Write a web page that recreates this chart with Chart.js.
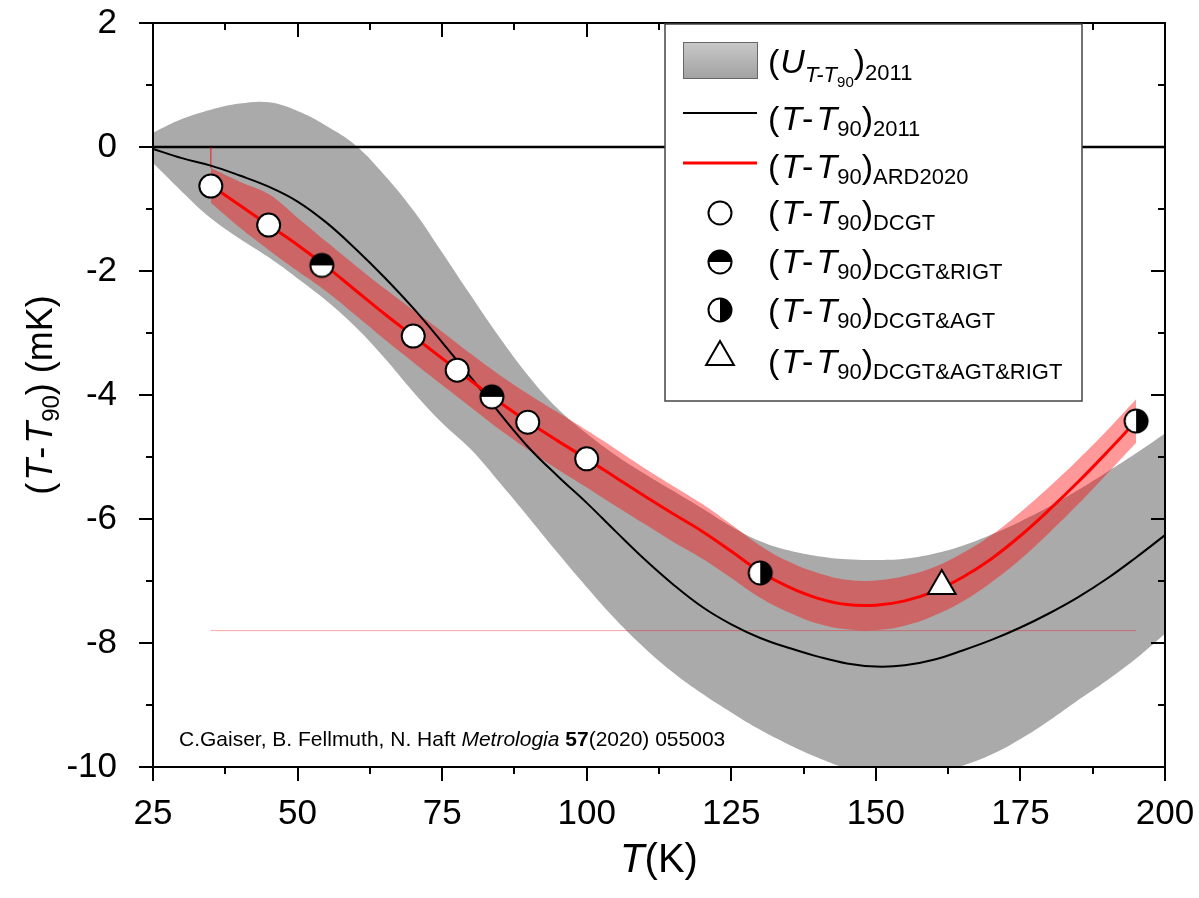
<!DOCTYPE html>
<html>
<head>
<meta charset="utf-8">
<script src="https://cdn.jsdelivr.net/npm/chart.js@4"></script>
<style>
  html,body{margin:0;padding:0;background:#fff;}
  canvas{display:block;}
</style>
</head>
<body>
<canvas id="c" width="1199" height="898"></canvas>
<script>
// ---- data ----
const xTicks = [25, 50, 75, 100, 125, 150, 175, 200];
const yTicks = [-10, -8, -6, -4, -2, 0, 2];

// 2011 band + 2011 curve, sampled every 5 K
const tGrid = [25,30,35,40,45,50,55,60,65,70,75,80,85,90,95,100,105,110,115,120,125,130,135,140,145,150,155,160,165,170,175,180,185,190,195,200];
const greyUpper = [0.23,0.45,0.60,0.70,0.72,0.58,0.34,0.03,-0.45,-1.02,-1.70,-2.40,-3.08,-3.70,-4.22,-4.62,-4.97,-5.27,-5.55,-5.83,-6.12,-6.36,-6.51,-6.60,-6.65,-6.66,-6.64,-6.56,-6.43,-6.25,-6.04,-5.80,-5.53,-5.24,-4.94,-4.62];
const greyLower = [-0.26,-0.72,-1.15,-1.48,-1.78,-2.12,-2.48,-2.90,-3.40,-3.95,-4.45,-4.88,-5.42,-5.98,-6.55,-7.10,-7.62,-8.08,-8.48,-8.82,-9.12,-9.40,-9.64,-9.85,-10.02,-10.12,-10.15,-10.10,-9.98,-9.80,-9.55,-9.25,-8.92,-8.60,-8.25,-7.85];
const curve2011 = [-0.03,-0.18,-0.30,-0.46,-0.64,-0.88,-1.22,-1.64,-2.10,-2.60,-3.15,-3.72,-4.30,-4.85,-5.31,-5.74,-6.20,-6.65,-7.06,-7.42,-7.70,-7.92,-8.08,-8.22,-8.33,-8.38,-8.36,-8.27,-8.12,-7.95,-7.75,-7.52,-7.26,-6.96,-6.62,-6.26];

// ARD2020 curve and its band
const tArd = [35,40,45,50,55,60,65,70,75,80,85,90,95,100,105,110,115,120,125,130,135,140,145,150,155,160,165,170,175,180,185,190,195];
const ardCurve = [-0.62,-0.94,-1.26,-1.58,-1.93,-2.31,-2.69,-3.05,-3.41,-3.77,-4.12,-4.44,-4.74,-5.03,-5.33,-5.63,-5.92,-6.20,-6.52,-6.85,-7.10,-7.28,-7.38,-7.39,-7.32,-7.17,-6.94,-6.64,-6.27,-5.85,-5.40,-4.92,-4.42];
const ardUpper = [-0.34,-0.56,-0.76,-1.14,-1.53,-1.91,-2.28,-2.63,-2.98,-3.34,-3.68,-3.99,-4.28,-4.57,-4.87,-5.18,-5.47,-5.76,-6.09,-6.43,-6.69,-6.87,-6.98,-6.99,-6.92,-6.78,-6.55,-6.26,-5.89,-5.48,-5.04,-4.57,-4.07];
const ardLower = [-0.90,-1.30,-1.66,-2.00,-2.33,-2.71,-3.10,-3.47,-3.84,-4.20,-4.56,-4.89,-5.20,-5.49,-5.79,-6.08,-6.37,-6.64,-6.95,-7.27,-7.51,-7.69,-7.78,-7.79,-7.72,-7.56,-7.33,-7.02,-6.65,-6.22,-5.76,-5.27,-4.77];

// measurement points
const dcgtT = [35, 45, 70, 77.6, 89.8, 100];
const dcgtY = [-0.63, -1.26, -3.05, -3.60, -4.44, -5.03];
const rigtT = [54.2, 83.6];
const rigtY = [-1.91, -4.03];
const agtT = [130, 195];
const agtY = [-6.87, -4.42];
const allT = [161.4];
const allY = [-7.08];

// stray plot lines in the original
const strayT = [35, 195];
const strayY = [-7.8, -7.8];
const stubT = [35, 35];
const stubY = [0, -0.34];

const FONT = '"Liberation Sans", Arial, sans-serif';
Chart.defaults.font.family = FONT;
Chart.defaults.color = '#000';

function pts(xs, ys){ return xs.map((x,i)=>({x:x, y:ys[i]})); }

function halfMarker(kind){
  const c = document.createElement('canvas');
  c.width = 30; c.height = 30;
  const g = c.getContext('2d');
  const m = 15, r = 11.5;
  g.fillStyle = '#fff';
  g.beginPath(); g.arc(m,m,r,0,Math.PI*2); g.fill();
  g.fillStyle = '#000';
  g.beginPath();
  if(kind==='top') g.arc(m,m,r,Math.PI,Math.PI*2);
  else g.arc(m,m,r,-Math.PI/2,Math.PI/2);
  g.closePath(); g.fill();
  g.lineWidth = 2; g.strokeStyle = '#000';
  g.beginPath(); g.arc(m,m,r,0,Math.PI*2); g.stroke();
  return c;
}
const topHalf = halfMarker('top');
const rightHalf = halfMarker('right');

const noPts = {pointRadius:0, pointHoverRadius:0};

// ---- frame, ticks, titles, legend, note ----
function runs(ctx, x, y, list){
  list.forEach(r=>{
    ctx.font = (r.i?'italic ':'') + (r.b?'bold ':'') + r.s + 'px ' + FONT;
    ctx.fillText(r.t, x, y + (r.dy||0));
    x += ctx.measureText(r.t).width + (r.gap||0);
  });
  return x;
}
function runsWidth(ctx, list){
  let w = 0;
  list.forEach(r=>{
    ctx.font = (r.i?'italic ':'') + (r.b?'bold ':'') + r.s + 'px ' + FONT;
    w += ctx.measureText(r.t).width + (r.gap||0);
  });
  return w;
}
function ttLabel(sub){
  return [{t:'(',s:34,gap:2},{t:'T',s:34,i:true},{t:'-',s:34,gap:3},{t:'T',s:34,i:true},{t:'90',s:22,dy:6},{t:')',s:34},{t:sub,s:22,dy:6}];
}

const decor = {
  id:'decor',
  afterDatasetsDraw(chart){
    const ctx = chart.ctx, a = chart.chartArea;
    const xs = chart.scales.x, ys = chart.scales.y;
    ctx.save();
    ctx.strokeStyle = '#000'; ctx.lineWidth = 2;
    ctx.strokeRect(a.left, a.top, a.right-a.left, a.bottom-a.top);
    // x ticks: outward at bottom, inward at top
    ctx.beginPath();
    for(let v=xs.min; v<=xs.max+0.01; v+=12.5){
      const px = Math.round(xs.getPixelForValue(v));
      const len = xTicks.includes(v) ? 14 : 7;
      ctx.moveTo(px, a.bottom); ctx.lineTo(px, a.bottom+len);
      ctx.moveTo(px, a.top); ctx.lineTo(px, a.top+len);
    }
    for(let v=ys.min; v<=ys.max+0.01; v+=1){
      const py = Math.round(ys.getPixelForValue(v));
      const len = yTicks.includes(v) ? 14 : 7;
      ctx.moveTo(a.left, py); ctx.lineTo(a.left-len, py);
      ctx.moveTo(a.right, py); ctx.lineTo(a.right-len, py);
    }
    ctx.stroke();

    ctx.fillStyle = '#000';
    ctx.textBaseline = 'alphabetic';
    // x title
    const xt = [{t:'T',s:40,i:true},{t:'(K)',s:40}];
    runs(ctx, (a.left+a.right)/2 - runsWidth(ctx,xt)/2, 872, xt);
    // y title
    const yt = [{t:'(',s:36,gap:2},{t:'T',s:36,i:true},{t:'-',s:36,gap:3},{t:'T',s:36,i:true},{t:'90',s:24,dy:7},{t:')',s:36},{t:' (mK)',s:36}];
    ctx.save();
    ctx.translate(0, (a.top+a.bottom)/2);
    ctx.rotate(-Math.PI/2);
    runs(ctx, -runsWidth(ctx,yt)/2, 52, yt);
    ctx.restore();

    // note
    runs(ctx, 179, 746, [{t:'C.Gaiser, B. Fellmuth, N. Haft ',s:21},{t:'Metrologia',s:21,i:true},{t:' ',s:21},{t:'57',s:21,b:true},{t:'(2020) 055003',s:21}]);

    // legend
    ctx.fillStyle = '#fff';
    ctx.fillRect(665, 24, 417, 377);
    ctx.strokeStyle = '#444'; ctx.lineWidth = 1.5;
    ctx.strokeRect(665, 24, 417, 377);
    const grad = ctx.createLinearGradient(0, 42, 0, 78);
    grad.addColorStop(0, '#c9c9c9'); grad.addColorStop(1, '#a2a2a2');
    ctx.fillStyle = grad; ctx.fillRect(683, 42, 74, 36);
    ctx.strokeStyle = '#666'; ctx.lineWidth = 1; ctx.strokeRect(683.5, 42.5, 74, 36);
    ctx.lineWidth = 2; ctx.strokeStyle = '#000';
    ctx.beginPath(); ctx.moveTo(683,113); ctx.lineTo(757,113); ctx.stroke();
    ctx.lineWidth = 3; ctx.strokeStyle = '#ff0000';
    ctx.beginPath(); ctx.moveTo(683,163); ctx.lineTo(757,163); ctx.stroke();
    ctx.lineWidth = 2; ctx.strokeStyle = '#000'; ctx.fillStyle = '#fff';
    ctx.beginPath(); ctx.arc(720,213,11.5,0,Math.PI*2); ctx.fill(); ctx.stroke();
    ctx.drawImage(topHalf, 705, 247);
    ctx.drawImage(rightHalf, 705, 295);
    ctx.beginPath();
    ctx.moveTo(720,357-16); ctx.lineTo(720+13.9,357+8); ctx.lineTo(720-13.9,357+8); ctx.closePath();
    ctx.fill(); ctx.stroke();

    ctx.fillStyle = '#000';
    runs(ctx, 768, 73, [{t:'(',s:34,gap:1},{t:'U',s:34,i:true},{t:'T-T',s:22,i:true,dy:9},{t:'90',s:15,dy:14},{t:')',s:34},{t:'2011',s:22,dy:7}]);
    runs(ctx, 768, 130, ttLabel('2011'));
    runs(ctx, 768, 178, ttLabel('ARD2020'));
    runs(ctx, 768, 224, ttLabel('DCGT'));
    runs(ctx, 768, 273, ttLabel('DCGT&RIGT'));
    runs(ctx, 768, 322, ttLabel('DCGT&AGT'));
    runs(ctx, 768, 373, ttLabel('DCGT&AGT&RIGT'));
    ctx.restore();
  }
};

const TEN = 0.4;

new Chart(document.getElementById('c'), {
  type:'scatter',
  data:{
    datasets:[
      {label:'U2011 upper', data:pts(tGrid,greyUpper), showLine:true, fill:'+1', backgroundColor:'#aaaaaa', borderWidth:0, ...noPts, tension:TEN, order:20},
      {label:'U2011 lower', data:pts(tGrid,greyLower), showLine:true, fill:false, borderWidth:0, ...noPts, tension:TEN, order:21},
      {label:'zero', data:pts([25,200],[0,0]), showLine:true, borderColor:'#000', borderWidth:2.5, ...noPts, order:9},
      {label:'stray', data:pts(strayT,strayY), showLine:true, borderColor:'rgba(255,0,0,0.35)', borderWidth:1, ...noPts, order:8},
      {label:'stub', data:pts(stubT,stubY), showLine:true, borderColor:'rgba(255,0,0,0.35)', borderWidth:1, ...noPts, order:8},
      {label:'(T-T90)2011', data:pts(tGrid,curve2011), showLine:true, borderColor:'#000', borderWidth:2, ...noPts, tension:TEN, order:5},
      {label:'ARD upper', data:pts(tArd,ardUpper), showLine:true, fill:'+1', backgroundColor:'rgba(255,0,0,0.4)', borderWidth:0, ...noPts, tension:TEN, order:7},
      {label:'ARD lower', data:pts(tArd,ardLower), showLine:true, fill:false, borderWidth:0, ...noPts, tension:TEN, order:7.5},
      {label:'(T-T90)ARD2020', data:pts(tArd,ardCurve), showLine:true, borderColor:'#ff0000', borderWidth:3, ...noPts, tension:TEN, order:4},
      {label:'DCGT', data:pts(dcgtT,dcgtY), pointStyle:'circle', pointRadius:11.5, pointBackgroundColor:'#fff', pointBorderColor:'#000', pointBorderWidth:2, order:1},
      {label:'DCGT&RIGT', data:pts(rigtT,rigtY), pointStyle:topHalf, pointRadius:12, order:1},
      {label:'DCGT&AGT', data:pts(agtT,agtY), pointStyle:rightHalf, pointRadius:12, order:1},
      {label:'DCGT&AGT&RIGT', data:pts(allT,allY), pointStyle:'triangle', pointRadius:16, pointBackgroundColor:'#fff', pointBorderColor:'#000', pointBorderWidth:2, order:1}
    ]
  },
  options:{
    responsive:false, animation:false, devicePixelRatio:1,
    layout:{padding:{left:0, top:23, right:34, bottom:0}},
    plugins:{legend:{display:false}, tooltip:{enabled:false}},
    scales:{
      x:{type:'linear', min:25, max:200,
         afterBuildTicks:s=>{ s.ticks = xTicks.map(v=>({value:v})); },
         afterFit:s=>{ s.height = 131; s.paddingLeft = 0; s.paddingRight = 0; },
         grid:{display:false}, border:{display:false},
         ticks:{font:{size:35}, padding:18, maxRotation:0, autoSkip:false, callback:v=>String(v)}},
      y:{type:'linear', min:-10, max:2,
         afterBuildTicks:s=>{ s.ticks = yTicks.map(v=>({value:v})); },
         afterFit:s=>{ s.width = 153; s.paddingTop = 0; s.paddingBottom = 0; },
         grid:{display:false}, border:{display:false},
         ticks:{font:{size:35}, padding:28, autoSkip:false, callback:v=>String(v)}}
    }
  },
  plugins:[decor]
});
</script>
</body>
</html>
